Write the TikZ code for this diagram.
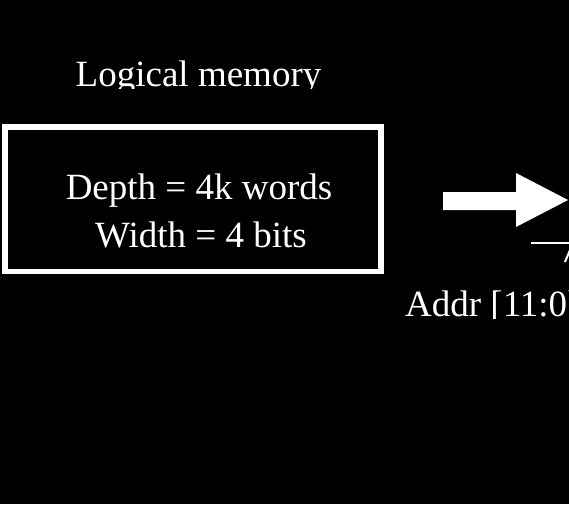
\documentclass[tikz,border=0pt]{standalone}
\usepackage{fontspec}
\setmainfont{Liberation Serif}
\begin{document}
\begin{tikzpicture}[x=1pt,y=-1pt,
  lbl/.style={text=white,inner sep=0pt,anchor=base},
  memframe/.style={draw=white,line width=5.5pt}]
\useasboundingbox[fill=black] (0,0) rectangle (569,504);
\begin{scope}
\clip (0,40) rectangle (400,88);
\node[lbl,font=\fontsize{37}{44}\selectfont] (title) at (198.5,86) {Logical memory};
\end{scope}
\node[memframe,minimum width=376pt,minimum height=144.5pt,inner sep=0pt] (mem) at (193,199.25) {};
\node[lbl,font=\fontsize{37}{44}\selectfont] (depth) at (199,199) {Depth = 4k words};
\node[lbl,font=\fontsize{37}{44}\selectfont] (width) at (201,247) {Width = 4 bits};
\fill[white] (443,192) -- (516,192) -- (516,173) -- (568,200) -- (516,227) -- (516,210) -- (443,210) -- cycle;
\coordinate (busL) at (531,243);
\coordinate (busR) at (569,243);
\draw[white,line width=2pt] (busL) -- (busR);
\coordinate (slA) at (565,262);
\coordinate (slB) at (570,250);
\draw[white,line width=2pt] (slA) -- (slB);
\begin{scope}
\clip (390,280) rectangle (569,318);
\node[lbl,font=\fontsize{37}{44}\selectfont,anchor=base west] (addr) at (405,316) {Addr [11:0]};
\end{scope}
\end{tikzpicture}
\end{document}
